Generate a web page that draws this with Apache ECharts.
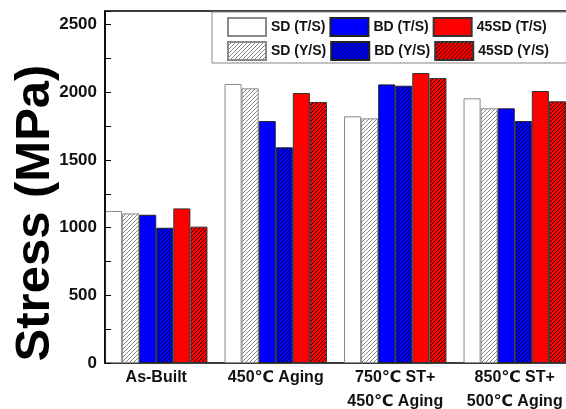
<!DOCTYPE html>
<html><head><meta charset="utf-8">
<script src="https://cdn.jsdelivr.net/npm/echarts@6/dist/echarts.min.js"></script>
<style>html,body{margin:0;padding:0;background:#fff}#c{width:566px;height:409px}</style>
</head><body><div id="c"></div>
<script>
const categories = ['As-Built', '450℃ Aging', '750℃ ST+\n450℃ Aging', '850℃ ST+\n500℃ Aging'];
const seriesNames = ['SD (T/S)', 'SD (Y/S)', 'BD (T/S)', 'BD (Y/S)', '45SD (T/S)', '45SD (Y/S)'];
const legendOrder = ['SD (T/S)', 'BD (T/S)', '45SD (T/S)', 'SD (Y/S)', 'BD (Y/S)', '45SD (Y/S)'];
const sdTS = [1123, 2061, 1822, 1955];
const sdYS = [1105, 2029, 1807, 1881];
const bdTS = [1095, 1787, 2058, 1881];
const bdYS = [999, 1593, 2048, 1787];
const sd45TS = [1142, 1994, 2142, 2009];
const sd45YS = [1007, 1928, 2105, 1933];
const yTicks = [0, 500, 1000, 1500, 2000, 2500];

function hatch(bg, line) {
  const s = 4;
  const c = document.createElement('canvas');
  c.width = s; c.height = s;
  const g = c.getContext('2d');
  g.fillStyle = bg; g.fillRect(0, 0, s, s);
  g.strokeStyle = line; g.lineWidth = 1;
  g.beginPath();
  g.moveTo(0, s); g.lineTo(s, 0);
  g.moveTo(-1, 1); g.lineTo(1, -1);
  g.moveTo(s - 1, s + 1); g.lineTo(s + 1, s - 1);
  g.stroke();
  return { image: c, repeat: 'repeat' };
}

const styles = [
  { color: '#ffffff', borderColor: '#8a8a8a', borderWidth: 1 },
  { color: hatch('#ffffff', '#8a8a8a'), borderColor: '#8a8a8a', borderWidth: 1 },
  { color: '#0000ff', borderColor: '#222', borderWidth: 1 },
  { color: hatch('#0000ff', '#000033'), borderColor: '#222', borderWidth: 1 },
  { color: '#ff0000', borderColor: '#333', borderWidth: 1 },
  { color: hatch('#ff0000', '#330000'), borderColor: '#333', borderWidth: 1 }
];
const dataSets = [sdTS, sdYS, bdTS, bdYS, sd45TS, sd45YS];

const chart = echarts.init(document.getElementById('c'), null, { renderer: 'canvas' });
const FONT = '"Liberation Sans", Arial, "DejaVu Sans", sans-serif';
chart.setOption({
  animation: false,
  backgroundColor: '#fff',
  grid: [
    { left: 96.5, width: 478, top: 11, bottom: 46, containLabel: false, outerBoundsMode: 'none' },
    { left: 105, right: -3, top: 11, bottom: 46, containLabel: false, outerBoundsMode: 'none',
      show: true, borderColor: '#000', borderWidth: 1.5, backgroundColor: 'transparent' }
  ],
  xAxis: [
    { type: 'category', gridIndex: 0, data: categories,
      axisLine: { show: false }, axisTick: { show: false },
      axisLabel: { fontFamily: FONT, fontWeight: 'bold', fontSize: 16, color: '#111', margin: 3, lineHeight: 24, interval: 0 } },
    { type: 'value', gridIndex: 1, show: false, min: 0, max: 1 }
  ],
  yAxis: [
    { type: 'value', gridIndex: 0, min: 0, max: 2600, show: false },
    { type: 'value', gridIndex: 1, min: 0, max: 2600, interval: 500, z: 10,
      axisLine: { show: true, lineStyle: { color: '#000', width: 1.5 } },
      axisTick: { show: true, inside: true, length: 6, lineStyle: { color: '#000' } },
      minorTick: { show: true, splitNumber: 2, length: 6, lineStyle: { color: '#000' } },
      splitLine: { show: false },
      axisLabel: { fontFamily: FONT, fontWeight: 'bold', fontSize: 17, color: '#111', margin: 8, showMaxLabel: false,
        formatter: v => (yTicks.indexOf(v) >= 0 ? String(v) : '') } }
  ],
  legend: {
    data: legendOrder,
    left: 212, top: 12, width: 335,
    orient: 'horizontal',
    icon: 'rect',
    itemWidth: 38, itemHeight: 18, itemGap: 4,
    padding: [5, 30, 2, 15],
    borderColor: '#888', borderWidth: 1,
    textStyle: { fontFamily: FONT, fontWeight: 'bold', fontSize: 14, color: '#111' },
    selectedMode: false
  },
  graphic: [
    { type: 'text', x: 35, y: 213, rotation: Math.PI / 2,
      style: { text: 'Stress (MPa)', font: 'bold 49px ' + FONT, fill: '#000', textAlign: 'center', textVerticalAlign: 'middle' } }
  ],
  series: seriesNames.map((n, i) => ({
    name: n, type: 'bar', xAxisIndex: 0, yAxisIndex: 0,
    data: dataSets[i],
    barGap: '0%', barCategoryGap: '14.3%',
    itemStyle: styles[i]
  }))
});
</script></body></html>
